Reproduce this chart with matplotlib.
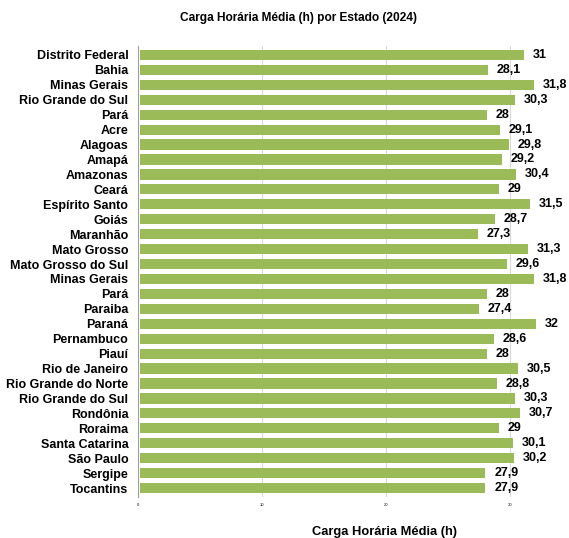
import matplotlib.pyplot as plt

estados = ["Distrito Federal", "Bahia", "Minas Gerais", "Rio Grande do Sul", "Pará",
           "Acre", "Alagoas", "Amapá", "Amazonas", "Ceará", "Espírito Santo", "Goiás",
           "Maranhão", "Mato Grosso", "Mato Grosso do Sul", "Minas Gerais", "Pará",
           "Paraiba", "Paraná", "Pernambuco", "Piauí", "Rio de Janeiro",
           "Rio Grande do Norte", "Rio Grande do Sul", "Rondônia", "Roraima",
           "Santa Catarina", "São Paulo", "Sergipe", "Tocantins"]
carga = [31, 28.1, 31.8, 30.3, 28, 29.1, 29.8, 29.2, 30.4, 29, 31.5, 28.7, 27.3, 31.3,
         29.6, 31.8, 28, 27.4, 32, 28.6, 28, 30.5, 28.8, 30.3, 30.7, 29, 30.1, 30.2,
         27.9, 27.9]
ticks = [0, 10, 20, 30]

plt.rcParams['font.family'] = ['Liberation Sans', 'DejaVu Sans']

fig = plt.figure(figsize=(5.69, 5.38), dpi=100)
ax = fig.add_axes([0.2425, 0.0762, 0.7185, 0.8383])

y = list(range(len(estados)))
ax.barh(y, carga, height=0.68, left=0.15, color='#9BBB59')
for yi, v in zip(y, carga):
    ax.text(v + 0.85, yi, f"{v:g}".replace('.', ','), va='center', ha='left',
            fontsize=9, fontweight='bold')

ax.set_yticks(y)
ax.set_yticklabels(estados, fontsize=9, fontweight='bold')
ax.set_ylim(len(estados) - 0.4, -0.6)
ax.set_xlim(0, 33)
ax.set_xticks(ticks)
ax.set_xticklabels([str(t) for t in ticks], fontsize=3)
ax.tick_params(axis='y', length=0, pad=7)
ax.tick_params(axis='x', length=0, pad=4)
ax.grid(axis='x', color='#d9d9d9', linewidth=0.8)
ax.set_axisbelow(True)
for s in ['top', 'right', 'bottom']:
    ax.spines[s].set_visible(False)
ax.spines['left'].set_color('#a0a0a0')
ax.spines['left'].set_linewidth(0.8)

fig.text(0.525, 0.966, "Carga Horária Média (h) por Estado (2024)", ha='center', va='center',
         fontsize=8.6, fontweight='bold')
fig.text(0.675, 0.011, "Carga Horária Média (h)", ha='center', va='center',
         fontsize=9.3, fontweight='bold')

plt.savefig("out.png", dpi=100)
